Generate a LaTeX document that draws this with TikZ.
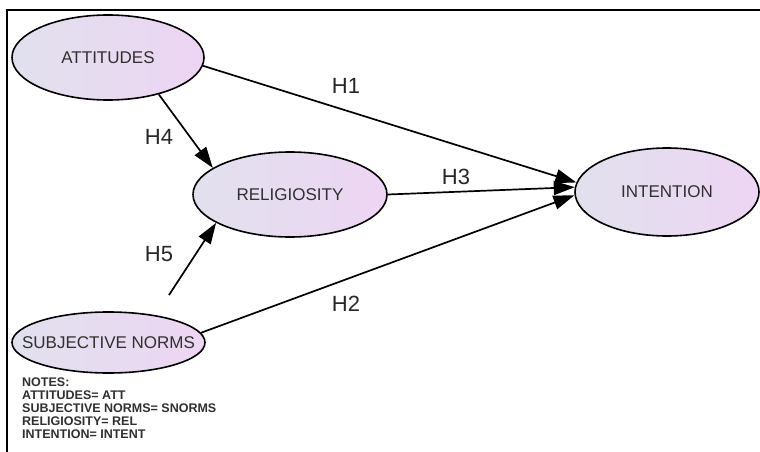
\documentclass[tikz,border=0pt]{standalone}
\usepackage{fontspec}
\usepackage{tikz}
\usetikzlibrary{arrows.meta,shapes.geometric}
\newfontfamily\diagfont{Liberation Sans}
\definecolor{ovalleft}{HTML}{E1E1EE}
\definecolor{ovalright}{HTML}{EDD5F3}
\definecolor{textgray}{HTML}{303030}

\begin{document}
\begin{tikzpicture}[x=1pt,y=-1pt,
	construct/.style={ellipse, draw=black, line width=1.6pt, left color=ovalleft, right color=ovalright,
		inner sep=0pt, text=textgray, font=\diagfont\fontsize{17}{20}\selectfont},
	path/.style={line width=1.7pt, -{Triangle[length=21pt,width=14pt]}},
	hyp/.style={font=\diagfont\fontsize{22}{26}\selectfont, text=black!85}]
			%%%%% START %%%%%
			
			\useasboundingbox (0, 0) rectangle (760, 452);
			\fill[white] (0, 0) rectangle (760, 452);
			
			% frame
			\draw[line width=2.6pt] (7, 452) -- (7, 10) -- (760, 10);
			
			% constructs
			\node[construct, minimum width=192pt, minimum height=85pt] (att) at (108, 57.5) {ATTITUDES};
			\node[construct, minimum width=194pt, minimum height=85pt] (rel) at (290, 194.5) {RELIGIOSITY};
			\node[construct, minimum width=184pt, minimum height=88pt] (int) at (667, 192) {INTENTION};
			\node[construct, inner xsep=-20pt, minimum width=193pt, minimum height=61pt] (sn) at (108.5, 342.5) {SUBJECTIVE NORMS};
			
			% hypotheses
			\draw[path] (att.-5) -- (int.174);
			\draw[path] (att.-36) -- (rel.161);
			\draw[path] (rel.0) -- (int.177);
			\draw[path, shorten <=24pt] (sn.30.5) -- (rel.201);
			\draw[path] (sn.6) -- (int.182);
			
			\node[hyp] (h1) at (346, 86) {H1};
			\node[hyp] (h4) at (159, 137) {H4};
			\node[hyp] (h3) at (456, 177) {H3};
			\node[hyp] (h5) at (159, 254) {H5};
			\node[hyp] (h2) at (346, 304) {H2};
			
			% notes
			\node[anchor=north west, align=left, inner sep=0pt, text=textgray,
				font=\diagfont\bfseries\fontsize{12.5}{13}\selectfont] (notes) at (22, 378)
				{NOTES:\\ATTITUDES= ATT\\SUBJECTIVE NORMS= SNORMS\\RELIGIOSITY= REL\\INTENTION= INTENT};
			
			%%%%% END %%%%%
		\end{tikzpicture}
\end{document}
